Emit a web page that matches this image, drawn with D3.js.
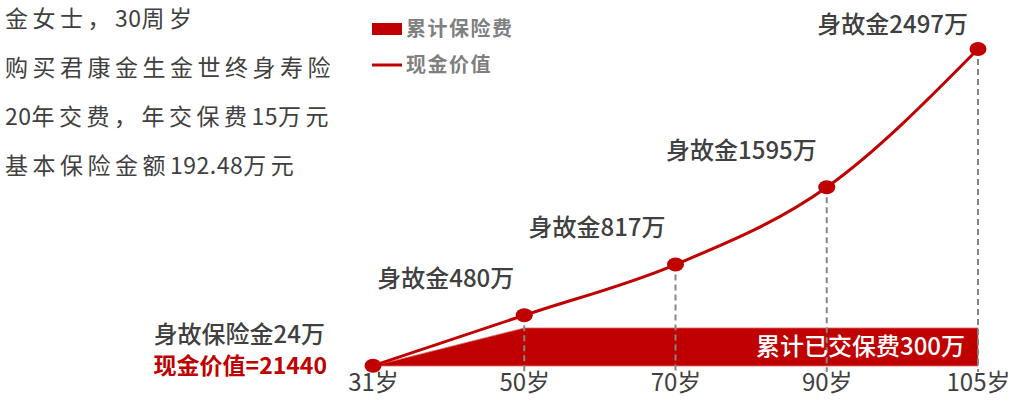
<!DOCTYPE html>
<html><head><meta charset="utf-8">
<script src="https://cdn.jsdelivr.net/npm/d3@7"></script>
<style>
html,body{margin:0;padding:0;background:#fff;}
svg{display:block;font-family:"Noto Sans CJK SC","Noto Sans",sans-serif;}
</style></head>
<body>
<svg id="chart" width="1015" height="406"></svg>
<script>
// ---- data ----
const ages = ["31岁", "50岁", "70岁", "90岁", "105岁"];
const cashValue = [2.144, 400, 800, 1410, 2500];           // 万 (line: 现金价值)
const deathLabels = ["身故保险金24万", "身故金480万", "身故金817万", "身故金1595万", "身故金2497万"];
const cumulativePremium = [0, 300, 300, 300, 300];        // 万
const premiumLabel = "累计已交保费300万";
const cashValueLabel = "现金价值=21440";
const infoLines = ["金女士，30周岁", "购买君康金生金世终身寿险", "20年交费，年交保费15万元", "基本保险金额192.48万元"];
const legendItems = ["累计保险费", "现金价值"];

const RED = "#C00000", TEXT = "#404040";
const svg = d3.select("#chart");

const x = d3.scalePoint().domain(ages).range([373, 978]);
const y = d3.scaleLinear().domain([0, 2500]).range([366, 49]);

const pts = ages.map((a, i) => ({age: a, v: cashValue[i], p: cumulativePremium[i], label: deathLabels[i]}));

// info text: CJK runs get extra spacing, Latin digits stay narrow
const info = svg.append("g").selectAll("text").data(infoLines).join("text")
  .attr("x", 5).attr("y", (d, i) => 19 + i * 49).attr("dy", "0.35em")
  .attr("font-size", 23).attr("fill", TEXT);
info.each(function(d) {
  const runs = d.match(/[\x20-\x7e]+|[^\x20-\x7e]+/g);
  d3.select(this).selectAll("tspan").data(runs).join("tspan")
    .attr("letter-spacing", r => /[\x20-\x7e]/.test(r) ? 0.5 : 4.5)
    .text(r => r);
});

// legend
const lg = svg.append("g");
lg.append("rect").attr("x", 372).attr("y", 23).attr("width", 30).attr("height", 12).attr("fill", RED);
lg.append("line").attr("x1", 372).attr("x2", 402).attr("y1", 65).attr("y2", 65).attr("stroke", RED).attr("stroke-width", 3);
lg.selectAll("text").data(legendItems).join("text")
  .attr("x", 406).attr("y", (d, i) => 29 + i * 36).attr("dy", "0.35em")
  .attr("font-size", 20).attr("font-weight", "bold").attr("letter-spacing", 1.5).attr("fill", "#7f7f7f")
  .text(d => d);

// premium area
const area = d3.area().x(d => x(d.age)).y0(y(0)).y1(d => y(d.p));
svg.append("path").datum(pts).attr("d", area).attr("fill", RED)
  .attr("stroke", "#e07070").attr("stroke-width", 0.8);

// dashed drop lines
svg.append("g").selectAll("line").data(pts.slice(1)).join("line")
  .attr("x1", d => x(d.age)).attr("x2", d => x(d.age))
  .attr("y1", d => y(d.v)).attr("y2", 372)
  .attr("stroke", "#858585").attr("stroke-width", 2).attr("stroke-dasharray", "6,4");

// premium label
svg.append("text").attr("x", x(ages[ages.length - 1]) - 13).attr("y", (y(0) + y(300)) / 2).attr("dy", "0.35em")
  .attr("text-anchor", "end").attr("font-size", 24).attr("font-weight", 500).attr("fill", "#fff")
  .text(premiumLabel);

// line
const line = d3.line().x(d => x(d.age)).y(d => y(d.v)).curve(d3.curveMonotoneX);
svg.append("path").datum(pts).attr("d", line).attr("fill", "none").attr("stroke", RED).attr("stroke-width", 3);

// dots
svg.append("g").selectAll("ellipse").data(pts).join("ellipse")
  .attr("cx", d => x(d.age)).attr("cy", d => y(d.v)).attr("rx", 8.5).attr("ry", 7).attr("fill", RED);

// value labels
svg.append("g").selectAll("text").data(pts).join("text")
  .attr("x", (d, i) => x(d.age) - (i === 0 ? 48 : 10))
  .attr("y", (d, i) => i === 0 ? y(d.v) - 31 : Math.max(25, y(d.v) - 37))
  .attr("dy", "0.35em").attr("text-anchor", "end")
  .attr("font-size", 24).attr("font-weight", 500).attr("fill", TEXT)
  .text(d => d.label);

svg.append("text").attr("x", x(ages[0]) - 46).attr("y", y(cashValue[0])).attr("dy", "0.35em")
  .attr("text-anchor", "end").attr("font-size", 23).attr("font-weight", "bold").attr("fill", RED)
  .text(cashValueLabel);

// x axis
const ax = svg.append("g").attr("transform", `translate(0,${y(0)})`)
  .call(d3.axisBottom(x).tickSize(0).tickPadding(8));
ax.select(".domain").remove();
ax.selectAll("text").attr("font-size", 24).attr("fill", TEXT)
  .attr("font-family", '"Noto Sans CJK SC","Noto Sans",sans-serif');
</script>
</body></html>
